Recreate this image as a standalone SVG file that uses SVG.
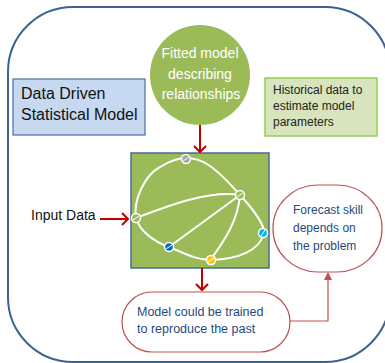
<svg xmlns="http://www.w3.org/2000/svg" width="385" height="363" viewBox="0 0 385 363">
<defs>
<style>
.t{font-family:"Liberation Sans",Arial,sans-serif}
.red{stroke:#c00000;stroke-width:2;fill:none}
.net{stroke:#fff;stroke-width:2;fill:none}
.nd{stroke:#fff;stroke-width:1.5}
.dk{fill:#1f497d}
</style>
<marker id="chev" markerUnits="userSpaceOnUse" markerWidth="14" markerHeight="14" refX="7" refY="7" orient="auto" viewBox="0 0 14 14">
<path d="M1,1 L7,7 L1,13" fill="none" stroke="#c00000" stroke-width="2"/>
</marker>
<marker id="tri" markerUnits="userSpaceOnUse" markerWidth="8" markerHeight="8" refX="7" refY="4" orient="auto" viewBox="0 0 8 8">
<path d="M0,0 L8,4 L0,8 Z" fill="#c0504d"/>
</marker>
</defs>
<rect x="0" y="0" width="385" height="363" fill="#fff"/>
<rect id="frame" x="8" y="7" width="382" height="355" rx="65" ry="65" fill="none" stroke="#3b6291" stroke-width="2"/>

<g id="title">
<rect x="13" y="79" width="132" height="56" fill="#c6d9f1" stroke="#4f6f9f" stroke-width="1.2"/>
<text class="t" x="21" y="99" font-size="16" fill="#111">Data Driven</text>
<text class="t" x="21" y="120" font-size="16" fill="#111">Statistical Model</text>
</g>

<g id="fitted">
<circle cx="200" cy="75" r="50" fill="#9bbb59"/>
<text class="t" x="200" y="58" font-size="14" fill="#fff" text-anchor="middle">Fitted model</text>
<text class="t" x="200" y="79" font-size="14" fill="#fff" text-anchor="middle">describing</text>
<text class="t" x="201" y="99" font-size="14" fill="#fff" text-anchor="middle">relationships</text>
</g>

<g id="historical">
<rect x="265" y="78" width="112" height="58" fill="#d7e4bd" stroke="#92d050" stroke-width="1.5"/>
<text class="t" x="273" y="94" font-size="12" fill="#222">Historical data to</text>
<text class="t" x="273" y="110" font-size="12" fill="#222">estimate model</text>
<text class="t" x="273" y="126" font-size="12" fill="#222">parameters</text>
</g>

<g id="model">
<rect x="131" y="153" width="138" height="115" fill="#9bbb59" stroke="#4a6b9c" stroke-width="1.5"/>
<path class="net" d="M186,158 C200,158 212,163 240,195 C252,208 268,228 263,236 C258,250 240,259 211,260 C195,260 182,252 169,247 C155,242 140,232 136,218 C133,200 145,175 160,167 C170,161 178,158 186,158 Z"/>
<path class="net" d="M136,218 C170,205 210,190 240,195"/>
<path class="net" d="M240,195 L169,247"/>
<path class="net" d="M240,195 C238,220 225,240 211,259"/>
<circle class="nd" cx="186" cy="159" r="4.5" fill="#a6a6a6"/>
<circle class="nd" cx="240" cy="195" r="4.5" fill="#9bbb59"/>
<circle class="nd" cx="136" cy="218" r="4.5" fill="#9bbb59"/>
<circle class="nd" cx="263" cy="233" r="4.5" fill="#00b0f0"/>
<circle class="nd" cx="169" cy="247" r="4.5" fill="#0070c0"/>
<circle class="nd" cx="211" cy="260" r="4.5" fill="#ffc000"/>
<path d="M183,161 L189,157 M237,197 L243,193 M133,220 L139,216 M261,236 L265,230 M166,249 L172,245 M208,262 L214,258" stroke="#fff" stroke-width="1"/>
</g>

<g id="input">
<text class="t" x="31" y="220" font-size="14" fill="#111">Input Data</text>
</g>

<g id="past">
<rect x="122" y="292" width="168" height="60" rx="30" ry="30" fill="#fff" stroke="#c0504d" stroke-width="1.2"/>
<text class="t dk" x="137" y="316" font-size="12.5">Model could be trained</text>
<text class="t dk" x="137" y="333" font-size="12.5">to reproduce the past</text>
</g>

<g id="forecast">
<rect x="273" y="185" width="109" height="87" rx="45" ry="43" fill="#fff" stroke="#c0504d" stroke-width="1.2"/>
<text class="t dk" x="293" y="214" font-size="12">Forecast skill</text>
<text class="t dk" x="293" y="232" font-size="12">depends on</text>
<text class="t dk" x="293" y="250" font-size="12">the problem</text>
</g>

<g id="connectors">
<line class="red" x1="200" y1="125" x2="200" y2="152" marker-end="url(#chev)"/>
<line class="red" x1="100" y1="219" x2="128" y2="219" marker-end="url(#chev)"/>
<line class="red" x1="202" y1="268" x2="202" y2="290" marker-end="url(#chev)"/>
<path d="M290,321 L328,321 L328,273" fill="none" stroke="#c0504d" stroke-width="1.2" marker-end="url(#tri)"/>
</g>
</svg>
